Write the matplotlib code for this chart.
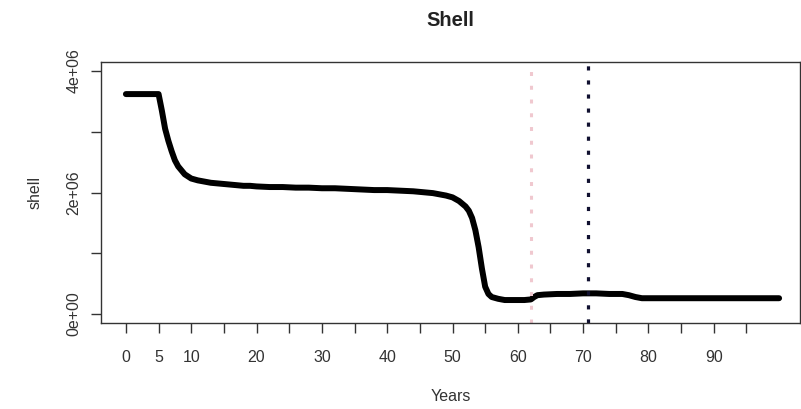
import matplotlib
matplotlib.use("Agg")
import matplotlib.pyplot as plt
import numpy as np

plt.rcParams['font.family'] = ['Liberation Sans', 'DejaVu Sans']

# simulated shell stock by year
years = [0, 1, 2, 3, 4, 5, 5.5, 6, 6.5, 7, 7.5, 8, 9, 10, 11, 12, 13, 14, 15,
         16, 17, 18, 19, 20, 22, 24, 26, 28, 30, 32, 34, 36, 38, 40, 42, 44,
         46, 47, 48, 49, 50, 51, 52, 52.5, 53, 53.5, 54, 54.5, 55, 55.5, 56,
         57, 58, 59, 60, 61, 62, 62.5, 63, 64, 66, 68, 70, 72, 74, 76, 77,
         78, 79, 80, 85, 90, 95, 100]
shell = [3.62, 3.62, 3.62, 3.62, 3.62, 3.62, 3.35, 3.05, 2.85, 2.68, 2.53,
         2.43, 2.30, 2.23, 2.20, 2.18, 2.16, 2.15, 2.14, 2.13, 2.12, 2.11,
         2.11, 2.10, 2.09, 2.09, 2.08, 2.08, 2.07, 2.07, 2.06, 2.05, 2.04,
         2.04, 2.03, 2.02, 2.00, 1.99, 1.97, 1.95, 1.92, 1.86, 1.77, 1.70,
         1.58, 1.38, 1.10, 0.75, 0.45, 0.33, 0.28, 0.25, 0.23, 0.23, 0.23,
         0.23, 0.24, 0.28, 0.31, 0.32, 0.33, 0.33, 0.34, 0.34, 0.33, 0.33,
         0.31, 0.28, 0.26, 0.26, 0.26, 0.26, 0.26, 0.26]
shell = np.array(shell) * 1e6

event_start = 62.0   # pink marker
event_end = 70.8     # dark marker

x_ticks = list(range(0, 100, 5))
x_labels = [str(t) if (t <= 10 or t % 10 == 0) else '' for t in x_ticks]
y_ticks = [0, 1e6, 2e6, 3e6, 4e6]
y_labels = ['0e+00', '', '2e+06', '', '4e+06']

fig = plt.figure(figsize=(8.01, 4.09), dpi=100)
ax = fig.add_axes([100.7 / 801, 86.3 / 409, 699.3 / 801, 261 / 409])

ax.plot(years, shell, color='black', lw=4.3, solid_capstyle='round',
        solid_joinstyle='round')

ax.axvline(event_start, color='#f0c8cf', lw=2.2, dashes=(1.3, 3.2),
           dash_capstyle='butt')
ax.axvline(event_end, color='#101030', lw=2.3, dashes=(1.3, 3.1),
           dash_capstyle='butt')

ax.set_xlim(-3.86, 103.2)
ax.set_ylim(-0.143e6, 4.153e6)

ax.set_xticks(x_ticks)
ax.set_xticklabels(x_labels)
ax.set_yticks(y_ticks)
ax.set_yticklabels(y_labels, rotation=90, va='center')

ax.tick_params(axis='both', direction='out', length=7, width=1,
               labelsize=11.5, colors='#333333')
ax.tick_params(axis='x', pad=13)
ax.tick_params(axis='y', pad=7)

for s in ax.spines.values():
    s.set_linewidth(1)
    s.set_color('#333333')

ax.set_title('Shell', fontsize=14.5, fontweight='bold', pad=26, color='#222222')
ax.set_xlabel('Years', fontsize=11.5, labelpad=17, color='#333333')
ax.set_ylabel('shell', fontsize=11.5, labelpad=17, color='#333333')

plt.savefig('out.png', dpi=100)
